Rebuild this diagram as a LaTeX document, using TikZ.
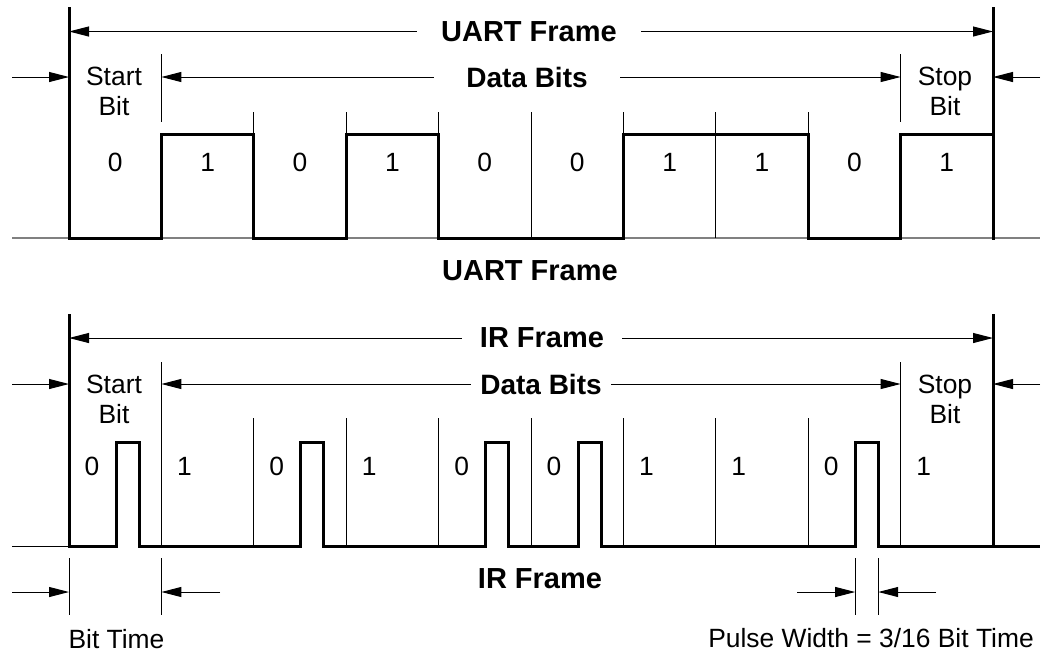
\documentclass[tikz,border=0pt]{standalone}
\usepackage{fontspec}
\setmainfont{Liberation Sans}
\usetikzlibrary{arrows.meta}
\tikzset{
  sig/.style={line width=1.5pt},
  tick/.style={line width=.5pt},
  dim/.style={line width=.5pt,-{Triangle[length=10pt,width=5pt]}},
  txt/.style={font=\fontsize{13.2}{15}\selectfont},
  ttl/.style={font=\fontsize{#1}{16}\selectfont\bfseries},
  ttl/.default=14.5
}
\newcommand{\bx}[1]{69+92.4*#1}
\begin{document}
\begin{tikzpicture}[x=.5pt,y=-.5pt]
\useasboundingbox (0,0) rectangle (1045,655);
% UART frame
\draw[gray,line width=.6pt] (12,238) -- (1040,238);
\foreach \i in {2,...,8} \draw[tick] ({\bx{\i}},112) -- ({\bx{\i}},238);
\foreach \i in {1,9} \draw[tick] ({\bx{\i}},54) -- ({\bx{\i}},122);
\draw[sig] (69,7) -- (69,238) \foreach \b [count=\i from 0] in {0,1,0,1,0,0,1,1,0,1} { -- ({\bx{\i}},{238-104*\b}) -- ({\bx{(\i+1)}},{238-104*\b}) };
\draw[sig] (993,7) -- (993,240);
\coordinate (uL) at (69,31.5); \coordinate (uR) at (993,31.5);
\coordinate (udL) at ({\bx1},77); \coordinate (udR) at ({\bx9},77);
\coordinate (uoL) at (12,77); \coordinate (usL) at (69,77);
\coordinate (uoR) at (1040,77); \coordinate (usR) at (993,77);
\node[ttl,inner xsep=12pt] (uart) at (529,31.5) {UART Frame};
\node[ttl=14,inner xsep=16pt] (udata) at (527,77) {Data Bits};
\draw[dim] (uart) -- (uL); \draw[dim] (uart) -- (uR);
\draw[dim] (udata) -- (udL); \draw[dim] (udata) -- (udR);
\draw[dim] (uoL) -- (usL); \draw[dim] (uoR) -- (usR);
\node[txt,align=center] (ustart) at (114,91) {Start\\Bit};
\node[txt,align=center] (ustop) at (945,91) {Stop\\Bit};
\foreach \b [count=\i from 0] in {0,1,0,1,0,0,1,1,0,1}
  \node[txt] (ub\i) at ({\bx{\i}+46.2},162) {\b};
\node[ttl] (ucap) at (530,270.5) {UART Frame};
% IR frame
\draw[tick] (12,546) -- (69,546);
\foreach \i in {2,...,8} \draw[tick] ({\bx{\i}},418) -- ({\bx{\i}},546);
\foreach \i in {1,9} \draw[tick] ({\bx{\i}},362) -- ({\bx{\i}},546);
\draw[sig] (69,314) -- (69,546) \foreach \b [count=\i from 0] in {0,1,0,1,0,0,1,1,0,1} { -- ({\bx{\i}+47},546) -- ({\bx{\i}+47},{546-104*(1-\b)}) -- ({\bx{\i}+70},{546-104*(1-\b)}) -- ({\bx{\i}+70},546) } -- (1040,546);
\draw[sig] (993,314) -- (993,546);
\coordinate (iL) at (69,338); \coordinate (iR) at (993,338);
\coordinate (idL) at ({\bx1},384); \coordinate (idR) at ({\bx9},384);
\coordinate (ioL) at (12,384); \coordinate (isL) at (69,384);
\coordinate (ioR) at (1040,384); \coordinate (isR) at (993,384);
\node[ttl,inner xsep=9pt] (ir) at (542,338) {IR Frame};
\node[ttl=14,inner xsep=4.5pt] (idata) at (541,384) {Data Bits};
\draw[dim] (ir) -- (iL); \draw[dim] (ir) -- (iR);
\draw[dim] (idata) -- (idL); \draw[dim] (idata) -- (idR);
\draw[dim] (ioL) -- (isL); \draw[dim] (ioR) -- (isR);
\node[txt,align=center] (istart) at (114,399) {Start\\Bit};
\node[txt,align=center] (istop) at (945,399) {Stop\\Bit};
\foreach \b [count=\i from 0] in {0,1,0,1,0,0,1,1,0,1}
  \node[txt] (ib\i) at ({\bx{\i}+23},466.5) {\b};
\node[ttl] (icap) at (540,579) {IR Frame};
% bit time and pulse width
\coordinate (btL) at (69,592); \coordinate (btR) at ({\bx1},592);
\coordinate (btoL) at (12,592); \coordinate (btoR) at (220,592);
\foreach \x in {69,161.4,855.2,878.2} \draw[tick] (\x,558) -- (\x,615);
\draw[dim] (btoL) -- (btL); \draw[dim] (btoR) -- (btR);
\coordinate (pwL) at (855.2,592); \coordinate (pwR) at (878.2,592);
\coordinate (pwoL) at (797,592); \coordinate (pwoR) at (936,592);
\draw[dim] (pwoL) -- (pwL); \draw[dim] (pwoR) -- (pwR);
\node[txt,anchor=base] (bt) at (116.5,648) {Bit Time};
\node[txt,anchor=base] (pw) at (871,647) {Pulse Width = 3/16 Bit Time};
\end{tikzpicture}
\end{document}
